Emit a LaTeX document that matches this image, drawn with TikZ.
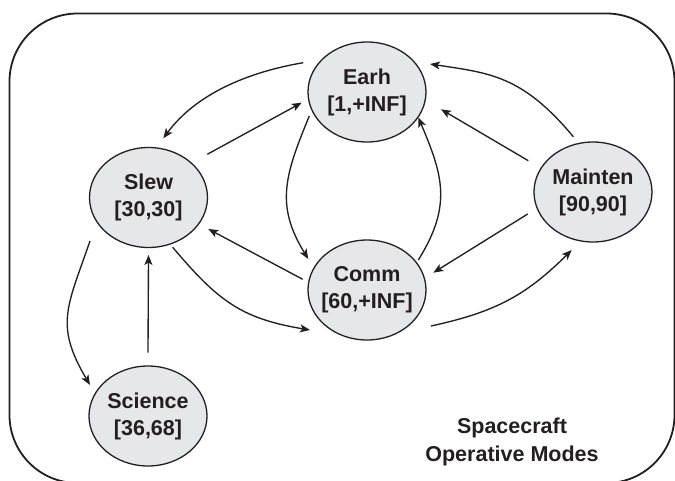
\documentclass[tikz,border=0pt]{standalone}
\usepackage{fontspec}
\setmainfont{Liberation Sans}
\usetikzlibrary{shapes.geometric,arrows.meta,calc}
\definecolor{ink}{HTML}{231F20}
\definecolor{modefill}{HTML}{E6E7E8}
\newcommand{\twoline}[2]{\makebox[0pt]{#1}\\\makebox[0pt]{#2}}
\begin{document}
\begin{tikzpicture}[x=1pt,y=-1pt,
  mode/.style={ellipse, draw=ink, line width=1.3pt, fill=modefill,
    minimum width=118pt, minimum height=100pt, inner sep=0pt, align=center,
    font=\fontsize{21.5}{27}\selectfont\bfseries, text=ink},
  conn/.style={draw=ink, line width=1.35pt,
    -{Stealth[length=10pt,width=8pt,inset=2.5pt]}},
  caption/.style={align=center, font=\fontsize{21.5}{28}\selectfont\bfseries, text=ink}
  ]
\useasboundingbox (0,0) rectangle (675,480);
\draw[ink, line width=1.8pt, rounded corners=68pt] (9.5,13.5) rectangle (674.5,483);

\node[mode] (earh) at (367,92) {\twoline{Earh}{[1,+INF]}};
\node[mode] (slew) at (148.5,197.5) {\twoline{Slew}{[30,30]}};
\node[mode] (comm) at (367,290) {\twoline{Comm}{[60,+INF]}};
\node[mode] (mainten) at (593,192) {\twoline{Mainten}{[90,90]}};
\node[mode] (science) at (148,416) {\twoline{Science}{[36,68]}};

\node[caption] (title) at (512,442) {Spacecraft\\Operative Modes};

\draw[conn] ($(earh)+(-63.7,-29.3)$) .. controls (248,72) and (196,94) .. ($(slew)+(14.8,-59.2)$);
\draw[conn] ($(slew)+(58.8,-43.2)$) -- ($(earh)+(-65.3,10.7)$);
\draw[conn] ($(earh)+(-57.7,24)$) .. controls (285,175) and (275,205) .. ($(comm)+(-58.7,-31)$);
\draw[conn] ($(comm)+(51.3,-30)$) .. controls (452.6,205) and (442.6,175) .. ($(earh)+(51.3,25.3)$);
\draw[conn] ($(mainten)+(-19.7,-55.3)$) .. controls (522,75) and (489,73) .. ($(earh)+(63,-28)$);
\draw[conn] ($(mainten)+(-64.7,-31.3)$) -- ($(earh)+(74,17.3)$);
\draw[conn] ($(mainten)+(-65.3,22)$) -- ($(comm)+(66.3,-17.3)$);
\draw[conn] ($(comm)+(64,36)$) .. controls (494.5,312.2) and (525.6,295.9) .. ($(mainten)+(-21.3,58)$);
\draw[conn] ($(comm)+(-64.3,-10.7)$) -- ($(slew)+(59.8,31.5)$);
\draw[conn] ($(slew)+(24.2,49.8)$) .. controls (217.9,300.8) and (241,318.5) .. ($(comm)+(-57,40)$);
\draw[conn] ($(slew)+(-58.5,43.5)$) .. controls (67.2,307.2) and (54.4,324.7) .. ($(science)+(-58,-31)$);
\draw[conn] ($(science)+(0,-63.3)$) -- ($(slew)+(0,57.5)$);
\end{tikzpicture}
\end{document}
